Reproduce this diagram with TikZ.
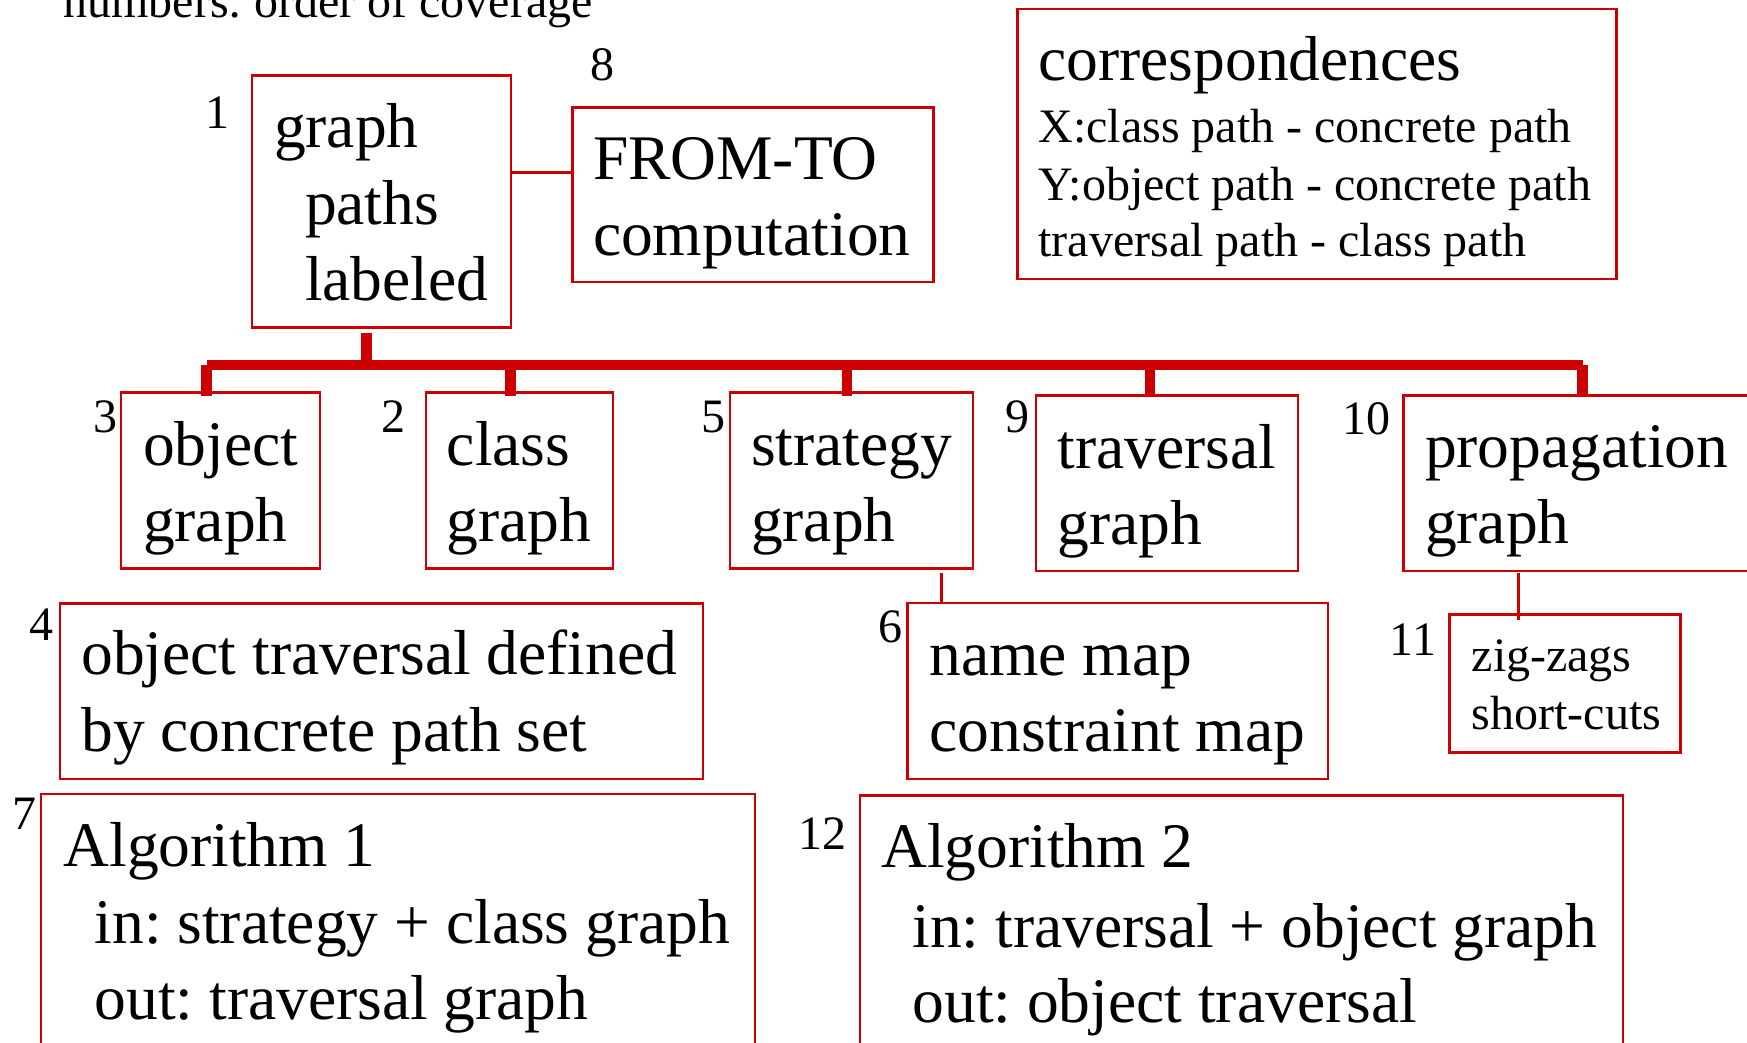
\documentclass[tikz,border=0pt]{standalone}
\usepackage{fontspec}
\setmainfont{Liberation Serif}
\definecolor{boxred}{RGB}{204,0,0}
\newcommand\fbig{\fontsize{63.5pt}{76pt}\selectfont}
\newcommand\fmed{\fontsize{48pt}{57pt}\selectfont}
\frenchspacing
\tikzset{
  box/.style={draw=boxred, line width=2.5pt, inner sep=0pt, outer sep=0pt, anchor=north west, rectangle},
  thinlink/.style={draw=boxred, line width=3pt},
  barline/.style={draw=boxred, line width=10.5pt, line cap=butt},
  bt/.style={inner sep=0pt, outer sep=0pt, anchor=base west, font=\fbig},
  mt/.style={inner sep=0pt, outer sep=0pt, anchor=base west, font=\fmed},
  num/.style={inner sep=0pt, outer sep=0pt, anchor=base, font=\fmed},
}
\begin{document}
\begin{tikzpicture}[x=1pt,y=-1pt]
\useasboundingbox (0,0) rectangle (1747,1042);
\clip (0,0) rectangle (1747,1042);
\fill[white] (0,0) rectangle (1747,1042);

% caption
\node[mt] (cap) at (63.5,17) {numbers: order of coverage};

% boxes
\node[box, minimum width=259pt, minimum height=252pt] (b1) at (252,75.5) {};
\node[box, minimum width=361pt, minimum height=174.5pt] (b8) at (572.3,107.3) {};
\node[box, minimum width=599pt, minimum height=270pt] (bc) at (1017.3,8.9) {};
\node[box, minimum width=199pt, minimum height=175.6pt] (b3) at (121,392.7) {};
\node[box, minimum width=187pt, minimum height=175.6pt] (b2) at (425.8,392.7) {};
\node[box, minimum width=243pt, minimum height=175.6pt] (b5) at (729.8,392.7) {};
\node[box, minimum width=262pt, minimum height=175.6pt] (b9) at (1036.2,395.3) {};
\node[box, minimum width=380pt, minimum height=175.6pt] (b10) at (1403.3,395.3) {};
\node[box, minimum width=643pt, minimum height=175.5pt] (b4) at (60.2,603.5) {};
\node[box, minimum width=420.5pt, minimum height=176pt] (b6) at (907.5,603.2) {};
\node[box, minimum width=231.4pt, minimum height=138.4pt] (b11) at (1449.3,614.3) {};
\node[box, minimum width=714pt, minimum height=320pt] (b7) at (41.2,794) {};
\node[box, minimum width=763pt, minimum height=320pt] (b12) at (860.2,795.5) {};

% numbers
\node[num] (n1) at (217.5,128) {1};
\node[num] (n8) at (602,80) {8};
\node[num] (n3) at (105.5,432.7) {3};
\node[num] (n2) at (393.3,432.7) {2};
\node[num] (n5) at (713,432.7) {5};
\node[num] (n9) at (1017.3,432.7) {9};
\node[num] (n10) at (1366,434) {10};
\node[num] (n4) at (41.3,640) {4};
\node[num] (n6) at (890.2,642) {6};
\node[num] (n11) at (1413,655) {11};
\node[num] (n7) at (24.5,829) {7};
\node[num] (n12) at (822.3,849.6) {12};

% texts
\node[bt] (t1a) at (274,147.5) {graph};
\node[bt] (t1b) at (305,224) {paths};
\node[bt] (t1c) at (305,300.5) {labeled};
\node[bt] (t8a) at (593,179.3) {FROM-TO};
\node[bt] (t8b) at (593,255) {computation};
\node[bt] (tca) at (1038.5,80) {correspondences};
\node[mt] (tcb) at (1038.5,142.6) {X:class path - concrete path};
\node[mt] (tcc) at (1038.5,200.2) {Y:object path - concrete path};
\node[mt] (tcd) at (1038.5,256.3) {traversal path - class path};
\node[bt] (t3a) at (143,465) {object};
\node[bt] (t3b) at (143,541.7) {graph};
\node[bt] (t2a) at (446.8,465) {class};
\node[bt] (t2b) at (446.8,541.7) {graph};
\node[bt] (t5a) at (751,465) {strategy};
\node[bt] (t5b) at (751,541.7) {graph};
\node[bt] (t9a) at (1057.4,468) {traversal};
\node[bt] (t9b) at (1057.4,544.7) {graph};
\node[bt] (t10a) at (1425,467) {propagation};
\node[bt] (t10b) at (1425,543.5) {graph};
\node[bt] (t4a) at (81.3,674.5) {object traversal defined};
\node[bt] (t4b) at (81.3,751) {by concrete path set};
\node[bt] (t6a) at (929.3,675) {name map};
\node[bt] (t6b) at (929.3,751.7) {constraint map};
\node[mt] (t11a) at (1471.7,671.7) {zig-zags};
\node[mt] (t11b) at (1471.7,729.3) {short-cuts};
\node[bt] (t7a) at (63.5,866.8) {Algorithm 1};
\node[bt] (t7b) at (94.7,943.5) {in: strategy + class graph};
\node[bt] (t7c) at (94.7,1019.8) {out: traversal graph};
\node[bt] (t12a) at (881.3,867) {Algorithm 2};
\node[bt] (t12b) at (912.5,947) {in: traversal + object graph};
\node[bt] (t12c) at (912.5,1022.8) {out: object traversal};

% connectors
\coordinate (c18) at (0,172.7);
\draw[thinlink] (b1.east |- c18) -- (b8.west |- c18);

\coordinate (s1) at (366.7,333);
\coordinate (barL) at (206.5,365);
\coordinate (barR) at (1582.5,365);
\draw[barline] (s1) -- (s1 |- barR);
\draw[barline] (barL) -- (barR);
\coordinate (d3) at (206.5,365);
\coordinate (d2) at (510.3,365);
\coordinate (d5) at (846.8,365);
\coordinate (d9) at (1149.9,365);
\coordinate (d10) at (1582.5,365);
\draw[barline] (d3) -- ([yshift=-3pt]d3 |- b3.north);
\draw[barline] (d2) -- ([yshift=-3pt]d2 |- b2.north);
\draw[barline] (d5) -- ([yshift=-3pt]d5 |- b5.north);
\draw[barline] (d9) -- ([yshift=-2pt]d9 |- b9.north);
\draw[barline] (d10) -- ([yshift=-2pt]d10 |- b10.north);

\coordinate (c56) at (941.7,573.3);
\draw[thinlink] (c56) -- (c56 |- b6.north);
\coordinate (c1011) at (1518.3,573);
\draw[thinlink] (c1011) -- ([yshift=-6pt]c1011 |- b11.north);
\end{tikzpicture}
\end{document}
